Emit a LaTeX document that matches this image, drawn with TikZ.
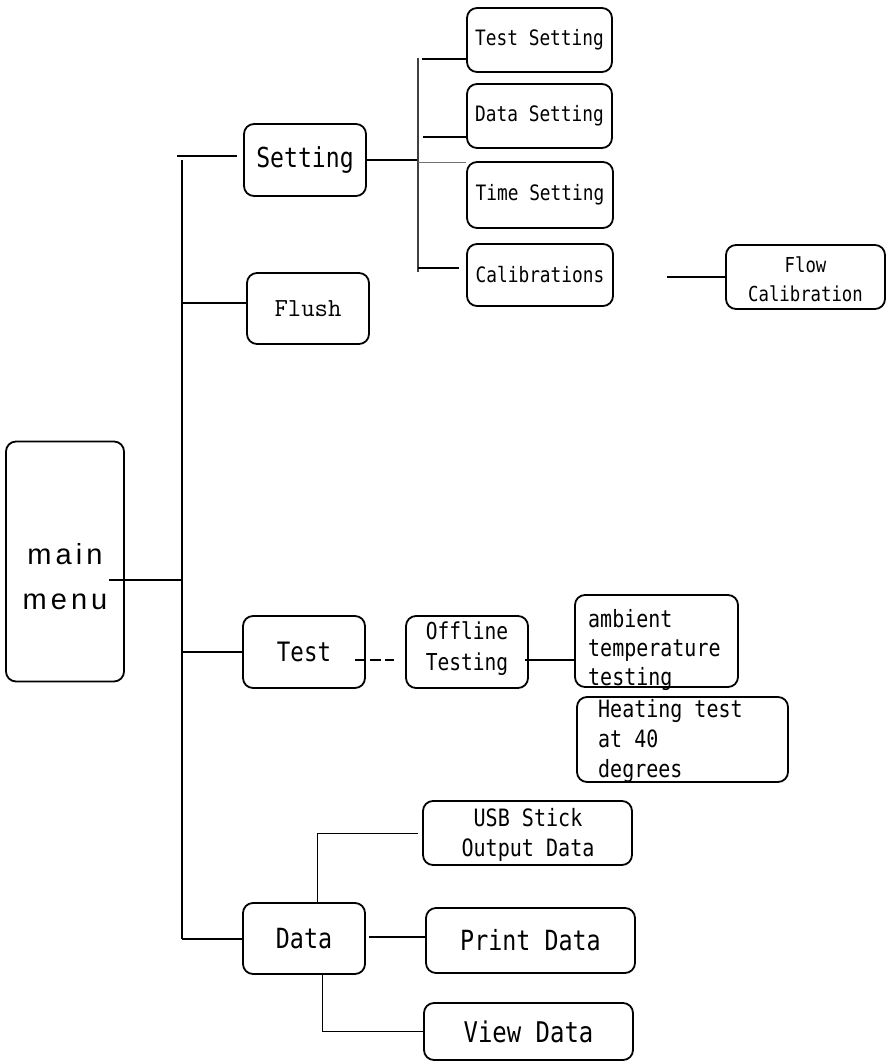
\documentclass[tikz,border=0pt]{standalone}
\usepackage{fontspec}
\newfontfamily\hei[FakeStretch=0.84]{DejaVu Sans Mono}
\newfontfamily\arialsp[LetterSpace=14]{Liberation Sans}
\newcommand\fs[2]{\fontsize{#1}{#2}\selectfont}
\begin{document}
\begin{tikzpicture}[x=1pt,y=-1pt,
  bx/.style={draw,line width=1.8pt,rounded corners=10pt,rectangle,inner sep=0pt},
  ln/.style={line width=1.7pt},
  thin/.style={line width=0.9pt},
  txt/.style={inner sep=0pt}]
\useasboundingbox (0,0) rectangle (886,1063);
% main menu
\node[bx,minimum width=118pt,minimum height=240pt] (mm) at (65,561.5) {};
\node[txt,align=center,font=\arialsp\fs{29}{45}] (mmT) at (65,577) {main\\menu};
% level 1
\node[bx,minimum width=122pt,minimum height=72pt,font=\hei\fs{27.5}{30}] (set) at (305,160) {Setting};
\node[bx,minimum width=122pt,minimum height=71pt,font=\ttfamily\fs{26}{30}] (fl) at (308,308.5) {Flush};
\node[bx,minimum width=122pt,minimum height=72pt,font=\hei\fs{26.7}{30}] (test) at (304,652) {Test};
\node[bx,minimum width=122pt,minimum height=71pt,font=\hei\fs{27.8}{30}] (data) at (304,938.5) {Data};
% setting children
\node[bx,minimum width=145pt,minimum height=64pt,font=\hei\fs{21.2}{25}] (ts) at (539.5,40) {Test Setting};
\node[bx,minimum width=145pt,minimum height=64pt,font=\hei\fs{21.2}{25}] (ds) at (539.5,116) {Data Setting};
\node[bx,minimum width=146pt,minimum height=66pt,font=\hei\fs{21.2}{25}] (tms) at (540,195) {Time Setting};
\node[bx,minimum width=146pt,minimum height=62pt,font=\hei\fs{21.2}{25}] (cal) at (540,275) {Calibrations};
\node[bx,minimum width=159pt,minimum height=64pt] (fc) at (805.5,277) {};
\node[txt,align=center,font=\hei\fs{20.6}{29}] (fcT) at (805.5,279) {Flow\\Calibration};
% test children
\node[bx,minimum width=122pt,minimum height=72pt] (off) at (467,652) {};
\node[txt,align=center,font=\hei\fs{23.3}{31}] (offT) at (467,649) {Offline\\Testing};
\node[bx,minimum width=163pt,minimum height=92pt] (amb) at (656.5,641) {};
\node[txt,align=left,anchor=west,font=\hei\fs{23.8}{29}] (ambT) at (588,650) {ambient\\temperature\\testing};
\node[bx,minimum width=211pt,minimum height=85pt] (heat) at (682.5,739.5) {};
\node[txt,align=left,anchor=west,font=\hei\fs{23.8}{30}] (heatT) at (598,741) {Heating test\\at 40\\degrees};
% data children
\node[bx,minimum width=209pt,minimum height=64pt] (usb) at (527.5,833) {};
\node[txt,align=center,font=\hei\fs{23.9}{30}] (usbT) at (528,835) {USB Stick\\Output Data};
\node[bx,minimum width=209pt,minimum height=65pt,font=\hei\fs{27.8}{30}] (pd) at (530.5,940.5) {Print Data};
\node[bx,minimum width=209pt,minimum height=57pt,font=\hei\fs{28.5}{30}] (vd) at (528.5,1031.5) {View Data};
% coordinates
\coordinate (trTop) at (182,160);
\coordinate (trSet) at (177,156);
\coordinate (trFl) at (182,303);
\coordinate (trMM) at (182,580);
\coordinate (mmIn) at (109,580);
\coordinate (trTest) at (182,652);
\coordinate (trData) at (182,939);
\coordinate (barTop) at (418,58);
\coordinate (barBot) at (418,272);
\coordinate (barSet) at (418,160);
% trunk
\draw[ln] (trTop) -- (trData);
\draw[ln] (trSet) -- ([xshift=-6pt]set.west |- trSet);
\draw[ln] (trFl) -- (fl.west |- trFl);
\draw[ln] (mmIn) -- (trMM);
\draw[ln] (trTest) -- (test.west |- trTest);
\draw[ln] (trData) -- (data.west |- trData);
% setting bar
\draw[ln] (set.east |- barSet) -- (barSet);
\draw[line width=1.6pt,black!75] (barTop) -- (barBot);
\draw[ln] ([xshift=4pt]barTop |- 0,59) -- (ts.west |- 0,59);
\draw[ln] ([xshift=5pt]barTop |- 0,137) -- (ds.west |- 0,137);
\draw[thin,black!55] (barTop |- 0,162) -- (tms.west |- 0,162);
\draw[ln] (barTop |- 0,268) -- ([xshift=-7pt]cal.west |- 0,268);
\draw[ln] ([xshift=-58pt]fc.west) -- (fc.west);
% test row
\draw[ln,dash pattern=on 11pt off 4pt] ([xshift=-11pt]test.east |- 0,660) -- ([xshift=-11pt]off.west |- 0,660);
\draw[ln] ([xshift=-4pt]off.east |- 0,660) -- (amb.west |- 0,660);
% data row
\draw[thin] ([xshift=13pt]data.north) -- ([xshift=13pt]data.north |- usb.west) -- ([xshift=-4pt]usb.west);
\draw[ln] ([xshift=3pt]data.east |- 0,937) -- (pd.west |- 0,937);
\draw[thin] ([xshift=18pt]data.south) |- (vd.west);
\end{tikzpicture}
\end{document}
